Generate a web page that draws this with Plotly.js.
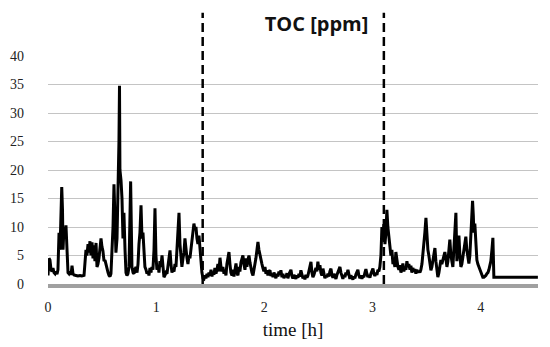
<!DOCTYPE html>
<html>
<head>
<meta charset="utf-8">
<script src="https://cdn.plot.ly/plotly-3.0.1.min.js"></script>
<style>
  html, body { margin: 0; padding: 0; background: #fff; }
  #plot { width: 550px; height: 347px; }
</style>
</head>
<body>
<div id="plot"></div>
<script>
// time [h] and TOC [ppm]
var timeH = [
  0.000, 0.009, 0.018, 0.028, 0.037, 0.046, 0.055, 0.065, 0.074, 0.083,
  0.092, 0.102, 0.111, 0.120, 0.127, 0.134, 0.139, 0.148, 0.157, 0.166,
  0.176, 0.185, 0.194, 0.203, 0.213, 0.222, 0.231, 0.240, 0.259, 0.277,
  0.296, 0.314, 0.333, 0.342, 0.351, 0.360, 0.370, 0.379, 0.388, 0.397,
  0.407, 0.416, 0.425, 0.434, 0.444, 0.453, 0.462, 0.471, 0.481, 0.490,
  0.499, 0.508, 0.518, 0.527, 0.536, 0.545, 0.555, 0.564, 0.573, 0.582,
  0.591, 0.601, 0.610, 0.619, 0.628, 0.638, 0.647, 0.656, 0.661, 0.665,
  0.675, 0.684, 0.693, 0.702, 0.712, 0.721, 0.730, 0.739, 0.749, 0.758,
  0.764, 0.772, 0.776, 0.786, 0.795, 0.804, 0.813, 0.823, 0.832, 0.841,
  0.850, 0.860, 0.869, 0.878, 0.887, 0.896, 0.906, 0.915, 0.924, 0.933,
  0.943, 0.952, 0.961, 0.970, 0.980, 0.989, 0.998, 1.007, 1.017, 1.026,
  1.035, 1.044, 1.054, 1.063, 1.072, 1.081, 1.091, 1.100, 1.109, 1.118,
  1.128, 1.137, 1.146, 1.155, 1.165, 1.174, 1.183, 1.192, 1.201, 1.211,
  1.220, 1.229, 1.238, 1.248, 1.257, 1.266, 1.275, 1.285, 1.294, 1.303,
  1.312, 1.322, 1.331, 1.340, 1.349, 1.359, 1.368, 1.377, 1.386, 1.396,
  1.405, 1.414, 1.423, 1.433,
  1.442, 1.451, 1.460, 1.470, 1.479, 1.488, 1.497, 1.507, 1.516, 1.525,
  1.534, 1.543, 1.553, 1.562, 1.571, 1.580, 1.590, 1.599, 1.608, 1.617,
  1.627, 1.636, 1.645, 1.654, 1.664, 1.673, 1.682, 1.691, 1.701, 1.710,
  1.719, 1.728, 1.738, 1.747, 1.756, 1.765, 1.774, 1.784, 1.793, 1.802,
  1.811, 1.821, 1.830, 1.839, 1.848, 1.858, 1.867, 1.876, 1.885, 1.895,
  1.904, 1.913, 1.922, 1.932, 1.941, 1.950, 1.959, 1.969, 1.978, 1.987,
  1.996, 2.006, 2.015, 2.024, 2.033, 2.043, 2.052, 2.061, 2.070, 2.080,
  2.089, 2.098, 2.107, 2.116, 2.126, 2.135, 2.144, 2.153, 2.163, 2.172,
  2.181, 2.190, 2.200, 2.209, 2.218, 2.227, 2.237, 2.246, 2.255, 2.264,
  2.274, 2.283, 2.292, 2.301, 2.311, 2.320, 2.329, 2.338, 2.347, 2.357,
  2.366, 2.375, 2.384, 2.394, 2.403, 2.412, 2.421, 2.431, 2.440, 2.449,
  2.458, 2.468, 2.477, 2.486, 2.495, 2.505, 2.514, 2.523, 2.532, 2.542,
  2.551, 2.560, 2.569, 2.579, 2.588, 2.597, 2.606, 2.616, 2.625, 2.634,
  2.643, 2.652, 2.662, 2.671, 2.680, 2.689, 2.699, 2.708, 2.717, 2.726,
  2.736, 2.745, 2.754, 2.763, 2.773, 2.782, 2.791, 2.800, 2.810, 2.819,
  2.828, 2.837, 2.847, 2.856, 2.865, 2.874, 2.884, 2.893, 2.902, 2.911,
  2.920, 2.930, 2.939, 2.948, 2.957, 2.967, 2.976, 2.985, 2.994, 3.004,
  3.013, 3.022, 3.031, 3.041, 3.050, 3.059, 3.068, 3.078, 3.087, 3.096,
  3.105,
  3.115, 3.124, 3.133, 3.142, 3.152, 3.161, 3.170, 3.179, 3.189, 3.198,
  3.207, 3.216, 3.226, 3.235, 3.244, 3.253, 3.263, 3.272, 3.281, 3.290,
  3.300, 3.309, 3.318, 3.327, 3.336, 3.346, 3.355, 3.364, 3.373, 3.383,
  3.392, 3.401, 3.410, 3.420, 3.429, 3.438, 3.447, 3.457, 3.466, 3.475,
  3.484, 3.494, 3.503, 3.512, 3.521, 3.531, 3.540, 3.549, 3.558, 3.567,
  3.577, 3.586, 3.595, 3.604, 3.614, 3.623, 3.632, 3.641, 3.651, 3.660,
  3.669, 3.678, 3.688, 3.697, 3.706, 3.715, 3.725, 3.734, 3.743, 3.752,
  3.762, 3.771, 3.780, 3.789, 3.799, 3.808, 3.817, 3.826, 3.836, 3.845,
  3.854, 3.863, 3.872, 3.882, 3.891, 3.900, 3.909, 3.919, 3.925, 3.932,
  3.937, 3.946, 3.956, 3.965, 3.974, 3.983, 3.993, 4.002, 4.011, 4.020,
  4.030, 4.039, 4.048, 4.057, 4.067, 4.076, 4.085, 4.094, 4.104, 4.113,
  4.122, 4.529
];

var tocPpm = [
  1.5, 4.5, 4.2, 2.5, 2.2, 2.8, 2.0, 1.8, 2.2, 1.7,
  2.5, 9.0, 6.0, 12, 17, 13, 6.0, 10, 8.0, 10.3,
  5.0, 2.0, 1.8, 2.2, 1.6, 3.2, 1.8, 1.6, 1.5, 1.4,
  1.5, 1.4, 1.5, 4.5, 6.0, 5.0, 7.0, 5.5, 7.5, 5.0,
  7.3, 4.5, 6.8, 4.0, 7.2, 3.0, 3.5, 4.5, 6.0, 8.0,
  6.5, 5.8, 4.0, 4.2, 3.5, 2.5, 2.0, 1.5, 1.3, 1.8,
  5.0, 10, 17.5, 9.0, 5.5, 8.0, 15, 25, 34.8, 20,
  18.2, 15, 8.0, 12.5, 6.0, 2.0, 1.5, 1.8, 3.0, 10,
  18, 8.0, 3.0, 2.0, 1.8, 2.5, 3.0, 2.0, 3.5, 7.0,
  9.0, 13.8, 8.0, 9.0, 5.0, 3.0, 2.5, 1.8, 2.2, 1.5,
  2.8, 2.0, 3.0, 2.5, 6.0, 13.3, 5.0, 2.5, 3.0, 2.0,
  4.0, 3.0, 5.0, 2.0, 1.2, 1.5, 2.0, 1.8, 3.0, 4.5,
  5.9, 3.5, 2.0, 2.5, 2.2, 3.5, 3.0, 6.0, 9.0, 12.5,
  7.0, 4.0, 3.0, 4.5, 5.5, 8.0, 6.0, 4.5, 3.5, 5.0,
  4.5, 6.0, 8.0, 9.0, 10.6, 9.5, 10, 8.0, 7.0, 8.5,
  6.0, 4.0, 2.0, 1.0,
  0.9, 1.5, 1.0, 1.8, 1.2, 2.0, 1.5, 2.5, 1.3, 2.2,
  1.6, 2.8, 1.8, 2.5, 3.5, 2.2, 4.6, 3.0, 2.2, 3.0,
  1.8, 2.5, 1.5, 3.5, 4.5, 5.6, 3.5, 2.0, 1.5, 2.5,
  1.3, 2.8, 3.6, 2.0, 1.5, 3.0, 2.2, 3.8, 4.5, 5.0,
  3.5, 2.5, 4.5, 3.0, 4.2, 5.0, 3.8, 2.5, 2.0, 1.5,
  2.5, 3.0, 4.5, 6.0, 7.4, 6.0, 5.0, 4.6, 3.5, 2.8,
  2.2, 3.0, 1.8, 2.4, 1.5, 2.2, 2.4, 1.4, 1.8, 1.2,
  2.0, 1.5, 1.0, 1.8, 1.3, 2.2, 1.6, 2.4, 1.2, 1.8,
  1.0, 1.5, 1.2, 1.9, 1.0, 1.7, 2.2, 2.5, 1.4, 1.0,
  1.6, 1.2, 0.9, 1.5, 1.1, 1.8, 1.3, 2.4, 1.5, 1.0,
  1.4, 0.8, 1.6, 1.1, 1.5, 2.2, 3.0, 3.9, 2.0, 1.2,
  1.6, 2.2, 2.8, 2.2, 3.9, 2.5, 3.3, 2.0, 1.5, 2.7,
  1.8, 1.0, 1.5, 1.2, 1.8, 1.3, 2.2, 2.7, 1.6, 1.1,
  1.8, 1.3, 0.9, 1.6, 2.2, 2.6, 3.0, 2.0, 1.4, 0.9,
  1.6, 1.2, 2.0, 1.6, 2.5, 1.4, 0.9, 1.5, 1.1, 0.8,
  1.3, 1.0, 1.7, 2.2, 2.5, 1.5, 1.0, 1.5, 0.9, 1.4,
  1.2, 2.0, 2.6, 1.8, 1.2, 1.6, 1.1, 1.8, 2.2, 2.7,
  1.8, 1.4, 2.0, 1.6, 2.5, 2.2, 3.0, 5.0, 10, 8.0,
  10.5,
  7.0, 9.0, 13, 10, 8.0, 6.5, 5.0, 6.0, 3.5, 4.0,
  3.0, 5.6, 4.0, 3.0, 2.5, 3.3, 2.0, 2.8, 3.6, 2.2,
  3.0, 2.5, 4.0, 3.0, 3.5, 2.5, 3.2, 2.0, 2.8, 2.2,
  2.6, 1.8, 2.5, 2.0, 2.3, 2.0, 2.5, 3.5, 5.0, 7.0,
  9.0, 11.6, 8.0, 6.0, 5.0, 4.0, 2.4, 3.0, 4.0, 5.0,
  6.3, 4.0, 2.0, 1.2, 2.0, 3.0, 4.2, 3.5, 4.5, 5.0,
  5.6, 4.5, 3.0, 4.0, 6.0, 7.8, 5.0, 4.0, 3.0, 6.0,
  9.0, 12.5, 4.0, 6.0, 8.5, 5.0, 3.0, 3.5, 5.0, 6.0,
  7.0, 8.3, 6.0, 4.5, 3.6, 5.0, 9.0, 12, 14.6, 12,
  9.0, 10.6, 6.0, 4.2, 3.5, 3.0, 2.5, 2.0, 1.5, 1.2,
  1.2, 1.3, 1.5, 1.8, 2.0, 2.5, 3.5, 4.0, 6.0, 8.1,
  1.2, 1.2
];

// dashed phase boundaries [h]
var phaseBounds = [1.43, 3.105];

var xTickVals = [0, 1, 2, 3, 4];
var yTickVals = [0, 5, 10, 15, 20, 25, 30, 35, 40];

var serif = "'Liberation Serif', 'Times New Roman', Times, serif";

var trace = {
  x: timeH,
  y: tocPpm,
  type: "scatter",
  mode: "lines",
  line: {color: "#000", width: 3},
  hoverinfo: "skip"
};

var shapes = phaseBounds.map(function (t) {
  return {
    type: "line",
    xref: "x", yref: "paper",
    x0: t, x1: t, y0: 0, y1: 1.19,
    line: {color: "#000", width: 2.5, dash: "9px,5px"}
  };
});

var layout = {
  width: 550,
  height: 347,
  margin: {l: 48, r: 12, t: 56, b: 63},
  paper_bgcolor: "#fff",
  plot_bgcolor: "#fff",
  showlegend: false,
  title: {
    text: "<b>TOC [ppm]</b>",
    font: {family: "Open Sans", size: 20, color: "#111"},
    x: 0.5755, xref: "container", xanchor: "center",
    y: 0.931, yref: "container", yanchor: "middle"
  },
  xaxis: {
    range: [0, 4.53],
    tickvals: xTickVals,
    showgrid: false,
    zeroline: false,
    showline: true,
    linecolor: "#a0a0a0",
    linewidth: 4,
    ticks: "",
    ticklabelstandoff: 7,
    tickfont: {family: serif, size: 14, color: "#222"},
    title: {
      text: "time [h]",
      font: {family: serif, size: 19, color: "#111"},
      standoff: 10
    }
  },
  yaxis: {
    range: [0, 40],
    tickvals: yTickVals,
    showgrid: true,
    gridcolor: "#c4c4c4",
    gridwidth: 1,
    zeroline: false,
    showline: false,
    ticks: "",
    ticklabelstandoff: 23,
    tickfont: {family: serif, size: 14, color: "#222"}
  },
  shapes: shapes
};

Plotly.newPlot("plot", [trace], layout, {staticPlot: true, displayModeBar: false});
</script>
</body>
</html>
